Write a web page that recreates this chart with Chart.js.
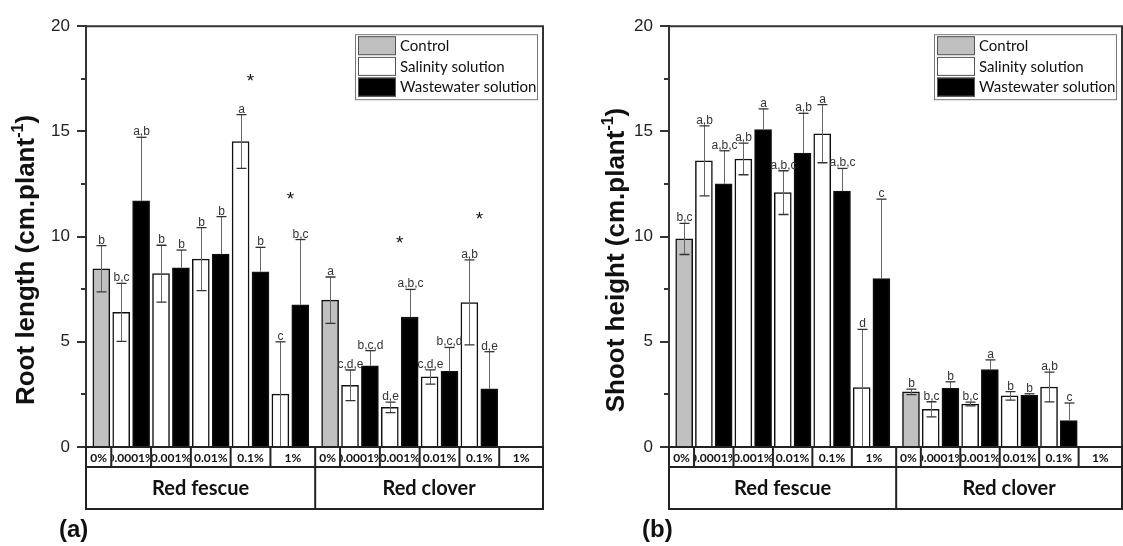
<!DOCTYPE html>
<html>
<head>
<meta charset="utf-8">
<script src="https://cdn.jsdelivr.net/npm/chart.js@4.4.1/dist/chart.umd.min.js"></script>
<style>
  html, body { margin: 0; padding: 0; background: #fff; }
  .panel { position: absolute; top: 0; height: 546px; }
  #rootWrap { left: 0; width: 562px; }
  #shootWrap { left: 562px; width: 561px; }
</style>
</head>
<body>
<div class="panel" id="rootWrap"><canvas id="rootChart"></canvas></div>
<div class="panel" id="shootWrap"><canvas id="shootChart"></canvas></div>
<script>
// categories
const concentrations = ['0%', '0.0001%', '0.001%', '0.01%', '0.1%', '1%'];
const plants = ['Red fescue', 'Red clover'];
const seriesNames = ['Control', 'Salinity solution', 'Wastewater solution'];
const yTicksMajor = [0, 5, 10, 15, 20];

// (a) root length, control per plant
const rootControl = [8.47, 6.98];
const rootControlErr = [1.10, 1.10];
const rootControlSig = ['b', 'a'];
// treatments: fescue 0.0001..1% then clover 0.0001..1%
const rootSalinity = [6.40, 8.24, 8.93, 14.52, 2.51, 2.93, 1.88, 3.33, 6.87, null];
const rootSalinityErr = [1.38, 1.35, 1.50, 1.28, 2.49, 0.73, 0.25, 0.34, 2.02, null];
const rootSalinitySig = ['b,c', 'b', 'b', 'a', 'c', 'c,d,e', 'd,e', 'c,d,e', 'a,b', ''];
const rootWaste = [11.70, 8.52, 9.17, 8.33, 6.76, 3.86, 6.18, 3.60, 2.77, null];
const rootWasteErr = [3.02, 0.84, 1.78, 1.16, 3.10, 0.72, 1.31, 1.13, 1.76, null];
const rootWasteSig = ['a,b', 'b', 'b', 'b', 'b,c', 'b,c,d', 'a,b,c', 'b,c,d', 'd,e', ''];
const rootStars = [null, null, null, 17.3, 11.7, null, 9.6, null, 10.75, null];

// (b) shoot height
const shootControl = [9.89, 2.62];
const shootControlErr = [0.74, 0.13];
const shootControlSig = ['b,c', 'b'];
const shootSalinity = [13.60, 13.69, 12.09, 14.89, 2.82, 1.79, 2.04, 2.43, 2.85, null];
const shootSalinityErr = [1.66, 0.75, 1.04, 1.38, 2.77, 0.36, 0.09, 0.20, 0.71, null];
const shootSalinitySig = ['a,b', 'a,b', 'a,b,c', 'a', 'd', 'b,c', 'b,c', 'b', 'a,b', ''];
const shootWaste = [12.51, 15.09, 13.97, 12.16, 8.00, 2.79, 3.68, 2.45, 1.26, null];
const shootWasteErr = [1.57, 0.98, 1.89, 1.08, 3.78, 0.31, 0.46, 0.08, 0.83, null];
const shootWasteSig = ['a,b,c', 'a', 'a,b', 'a,b,c', 'c', 'b', 'a', 'b', 'c', ''];
const shootStars = [null, null, null, null, null, null, null, null, null, null];

// slot layout on the x scale
const plantStart = [0, 11.5];
const groupSplit = 10.75;

function controlPoints(values, errs, sigs) {
    return values.map((v, i) => ({ x: plantStart[i], y: v, err: errs[i], sig: sigs[i] }));
}

function treatmentPoints(values, errs, sigs, offset) {
    const pts = [];
    values.forEach((v, i) => {
        if (v === null) return;
        const p = Math.floor(i / 5), k = i % 5;
        pts.push({ x: plantStart[p] + offset + 2 * k, y: v, err: errs[i], sig: sigs[i] });
    });
    return pts;
}

const decorPlugin = {
    id: 'decor',
    afterDatasetsDraw(chart) {
        const ctx = chart.ctx;
        const ys = chart.scales.y, xs = chart.scales.x;
        ctx.save();
        chart.data.datasets.forEach((ds, di) => {
            const meta = chart.getDatasetMeta(di);
            meta.data.forEach((bar, i) => {
                const d = ds.data[i];
                const top = ys.getPixelForValue(d.y + d.err);
                const low = ys.getPixelForValue(Math.max(0, d.y - d.err));
                const mid = ys.getPixelForValue(d.y);
                const x = Math.round(bar.x) + 0.5;
                ctx.strokeStyle = '#666';
                ctx.lineWidth = 1;
                ctx.beginPath();
                ctx.moveTo(x, top);
                ctx.lineTo(x, ds.upOnly ? mid : low);
                ctx.stroke();
                ctx.strokeStyle = '#333';
                ctx.lineWidth = 1.3;
                ctx.beginPath();
                ctx.moveTo(x - 5, top); ctx.lineTo(x + 5, top);
                if (!ds.upOnly && d.y - d.err > 0.05) {
                    ctx.moveTo(x - 5, low); ctx.lineTo(x + 5, low);
                }
                ctx.stroke();
                ctx.fillStyle = '#333';
                ctx.font = '12px "Liberation Sans", Arial, sans-serif';
                ctx.textAlign = 'center';
                ctx.textBaseline = 'alphabetic';
                ctx.fillText(d.sig, x, top - 2);
            });
        });
        // stars
        const stars = chart.options.plugins.decor.stars;
        ctx.fillStyle = '#111';
        ctx.font = '19px "Liberation Sans", Arial, sans-serif';
        ctx.textAlign = 'center';
        stars.forEach((s, i) => {
            if (s === null) return;
            const p = Math.floor(i / 5), k = i % 5;
            const x = xs.getPixelForValue(plantStart[p] + 1.5 + 2 * k);
            ctx.fillText('*', x, ys.getPixelForValue(s) + 4);
        });
        ctx.restore();
    },
    afterDraw(chart) {
        const ctx = chart.ctx;
        const a = chart.chartArea;
        const ys = chart.scales.y, xs = chart.scales.x;
        const o = chart.options.plugins.decor;
        ctx.save();
        // frame
        ctx.strokeStyle = '#333';
        ctx.lineWidth = 2;
        ctx.beginPath();
        ctx.moveTo(a.left, a.top); ctx.lineTo(a.right, a.top); ctx.lineTo(a.right, a.bottom);
        ctx.stroke();
        // y ticks (major + minor)
        ys.ticks.forEach(t => {
            const py = Math.round(ys.getPixelForValue(t.value));
            const len = yTicksMajor.includes(t.value) ? 9 : 5;
            ctx.beginPath();
            ctx.moveTo(a.left - len, py); ctx.lineTo(a.left, py);
            ctx.stroke();
        });
        // category table
        const r1 = a.bottom, r2 = a.bottom + 20, r3 = a.bottom + 62;
        ctx.strokeStyle = '#222';
        ctx.beginPath();
        ctx.rect(a.left, r1, a.right - a.left, r3 - r1);
        ctx.moveTo(a.left, r2); ctx.lineTo(a.right, r2);
        const split = xs.getPixelForValue(groupSplit);
        ctx.moveTo(split, r1); ctx.lineTo(split, r3);
        ctx.stroke();
        ctx.fillStyle = '#111';
        ctx.textAlign = 'center';
        ctx.textBaseline = 'middle';
        plants.forEach((pl, p) => {
            const s = plantStart[p];
            const edges = [p === 0 ? a.left : split];
            for (let k = 0; k < 5; k++) edges.push(xs.getPixelForValue(s + 0.5 + 2 * k));
            edges.push(p === 0 ? split : a.right);
            concentrations.forEach((c, k) => {
                const x0 = edges[k], x1 = edges[k + 1];
                if (k > 0) {
                    ctx.beginPath(); ctx.moveTo(x0, r1); ctx.lineTo(x0, r2); ctx.stroke();
                }
                ctx.save();
                ctx.beginPath(); ctx.rect(x0 + 1, r1, x1 - x0 - 2, r2 - r1); ctx.clip();
                ctx.font = 'bold 12px Lato, sans-serif';
                ctx.fillText(c, (x0 + x1) / 2, (r1 + r2) / 2 + 1);
                ctx.restore();
            });
            ctx.font = 'bold 20px Lato, sans-serif';
            ctx.fillText(pl, (edges[0] + edges[6]) / 2, (r2 + r3) / 2 + 1);
        });
        // legend box
        const bw = 182, bh = 65;
        const bx = a.right - 6 - bw, by = a.top + 8;
        ctx.strokeStyle = '#777';
        ctx.lineWidth = 1;
        ctx.strokeRect(bx + 0.5, by + 0.5, bw, bh);
        chart.data.datasets.forEach((ds, i) => {
            const ry = by + 2 + i * 20.7;
            ctx.fillStyle = ds.backgroundColor;
            ctx.fillRect(bx + 3, ry, 38, 19);
            ctx.strokeStyle = '#555';
            ctx.strokeRect(bx + 3.5, ry + 0.5, 37, 18);
            ctx.fillStyle = '#111';
            ctx.textAlign = 'left';
            ctx.font = '15px Lato, sans-serif';
            ctx.fillText(ds.label, bx + 45, ry + 10);
        });
        // y title with superscript
        ctx.save();
        ctx.translate(o.titleX, 260);
        ctx.rotate(-Math.PI / 2);
        ctx.textBaseline = 'alphabetic';
        ctx.textAlign = 'left';
        const big = 'bold 26px "Liberation Sans", Arial, sans-serif';
        const small = 'bold 16px "Liberation Sans", Arial, sans-serif';
        const main = o.title + ' (cm.plant';
        ctx.font = big;
        const w1 = ctx.measureText(main).width;
        const w3 = ctx.measureText(')').width;
        ctx.font = small;
        const w2 = ctx.measureText('-1').width;
        let tx = -(w1 + w2 + w3) / 2;
        ctx.fillStyle = '#111';
        ctx.font = big;
        ctx.fillText(main, tx, 0);
        tx += w1;
        ctx.font = small;
        ctx.fillText('-1', tx, -11);
        tx += w2;
        ctx.font = big;
        ctx.fillText(')', tx, 0);
        ctx.restore();
        // panel label
        ctx.fillStyle = '#111';
        ctx.textAlign = 'left';
        ctx.textBaseline = 'alphabetic';
        ctx.font = 'bold 24px "Liberation Sans", Arial, sans-serif';
        ctx.fillText(o.panel, o.panelX, 537);
        ctx.restore();
    }
};

function makeChart(id, cfg) {
    return new Chart(document.getElementById(id), {
        type: 'bar',
        data: {
            datasets: [
                {
                    label: seriesNames[0],
                    data: controlPoints(cfg.control, cfg.controlErr, cfg.controlSig),
                    backgroundColor: '#c0c0c0'
                },
                {
                    label: seriesNames[1],
                    data: treatmentPoints(cfg.sal, cfg.salErr, cfg.salSig, 1),
                    backgroundColor: '#ffffff'
                },
                {
                    label: seriesNames[2],
                    data: treatmentPoints(cfg.waste, cfg.wasteErr, cfg.wasteSig, 2),
                    backgroundColor: '#000000',
                    upOnly: true
                }
            ]
        },
        options: {
            responsive: true,
            maintainAspectRatio: false,
            animation: false,
            grouped: false,
            barThickness: 17,
            borderColor: '#111',
            borderWidth: 1.5,
            layout: { padding: { left: 0, right: cfg.padRight, top: 19, bottom: 99 } },
            scales: {
                x: {
                    type: 'linear', display: false, offset: false, bounds: 'data',
                    min: -0.77, max: 22.2,
                    grid: { offset: false }
                },
                y: {
                    min: 0,
                    max: 20,
                    afterFit: (s) => { s.width = cfg.axisWidth; },
                    ticks: {
                        stepSize: 2.5,
                        padding: 16,
                        color: '#222',
                        font: { family: '"Liberation Sans", Arial, sans-serif', size: 17 },
                        callback: (v) => yTicksMajor.includes(v) ? v : ''
                    },
                    grid: { drawOnChartArea: false, drawTicks: false },
                    border: { display: true, color: '#333', width: 2 }
                }
            },
            plugins: {
                legend: { display: false },
                tooltip: { enabled: false },
                decor: {
                    stars: cfg.stars,
                    title: cfg.title,
                    titleX: cfg.titleX,
                    panel: cfg.panel,
                    panelX: cfg.panelX
                }
            }
        },
        plugins: [decorPlugin]
    });
}

makeChart('rootChart', {
    control: rootControl, controlErr: rootControlErr, controlSig: rootControlSig,
    sal: rootSalinity, salErr: rootSalinityErr, salSig: rootSalinitySig,
    waste: rootWaste, wasteErr: rootWasteErr, wasteSig: rootWasteSig,
    stars: rootStars, title: 'Root length', titleX: 34, panel: '(a)', panelX: 59,
    axisWidth: 86, padRight: 19
});

makeChart('shootChart', {
    control: shootControl, controlErr: shootControlErr, controlSig: shootControlSig,
    sal: shootSalinity, salErr: shootSalinityErr, salSig: shootSalinitySig,
    waste: shootWaste, wasteErr: shootWasteErr, wasteSig: shootWasteSig,
    stars: shootStars, title: 'Shoot height', titleX: 62, panel: '(b)', panelX: 80,
    axisWidth: 107, padRight: 1
});
</script>
</body>
</html>
